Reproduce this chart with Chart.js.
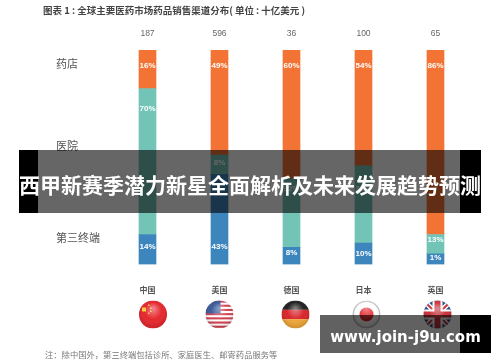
<!DOCTYPE html>
<html lang="zh">
<head>
<meta charset="utf-8">
<script src="https://cdn.jsdelivr.net/npm/chart.js@4"></script>
<style>
    html, body { margin: 0; padding: 0; background: #fff; }
    body { width: 500px; height: 362px; position: relative; overflow: hidden; font-family: "Noto Sans CJK SC", sans-serif; }
    #salesChart { position: absolute; left: 0; top: 0; filter: blur(0.5px); }
    .title { position: absolute; left: 43px; top: 2px; font-size: 9.5px; font-weight: 700; color: #444; line-height: 16px; white-space: nowrap; filter: blur(0.4px); }
    .note { position: absolute; left: 45px; top: 347px; font-size: 8.3px; color: #777; line-height: 14px; white-space: nowrap; filter: blur(0.4px); }
    .band { position: absolute; left: 38px; top: 150px; width: 422px; height: 63px; background: rgba(0,0,0,0.6); }
    .strip { position: absolute; background: #000; }
    .bandText { position: absolute; left: 19px; top: 153px; width: 462px; height: 63px; line-height: 63px; text-align: center; color: #fff; font-size: 21px; font-weight: 700; white-space: nowrap; }
    .mark { position: absolute; left: 320px; top: 315px; width: 140px; height: 38px; background: rgba(0,0,0,0.62); }
    .markText { position: absolute; left: 320px; top: 318px; width: 171px; height: 38px; line-height: 38px; text-align: center; color: #fff; font-size: 15px; font-weight: 700; font-family: "DejaVu Sans", sans-serif; white-space: nowrap; }
</style>
</head>
<body>
<canvas id="salesChart" width="500" height="362"></canvas>
<div class="title">图表 1 : 全球主要医药市场药品销售渠道分布( 单位 : 十亿美元 )</div>
<div class="note">注：除中国外，第三终端包括诊所、家庭医生、邮寄药品服务等</div>
<div class="band"></div>
<div class="strip" style="left:19px;top:150px;width:19px;height:63px"></div>
<div class="strip" style="left:460px;top:150px;width:21px;height:63px"></div>
<div class="bandText">西甲新赛季潜力新星全面解析及未来发展趋势预测</div>
<div class="mark"></div>
<div class="strip" style="left:460px;top:315px;width:31px;height:38px"></div>
<div class="markText">www.join-j9u.com</div>
<script>
const countries = ['中国', '美国', '德国', '日本', '英国'];
const totals = ['187', '596', '36', '100', '65'];
const rowLabels = ['药店', '医院', '第三终端'];
const rowTicks = [93.5, 55.3, 12.4];

// segment heights
const thirdValues = [14, 42, 8, 10, 5];
const hospitalValues = [68, 9, 32, 36, 9];
const pharmacyValues = [18, 49, 60, 54, 86];

// percentages printed on the bars
const thirdText = ['14%', '43%', '8%', '10%', '1%'];
const hospitalText = ['70%', '8%', '32%', '36%', '13%'];
const pharmacyText = ['16%', '49%', '60%', '54%', '86%'];

// where the printed labels sit inside a segment, px
const thirdLift = [18, 18, 12, 11, 7];
const hospitalDrop = [20, 8, 10, 23, 5];
const flagNudge = [5.5, 0, 4, 3, 2];

const flagPlugin = {
    id: 'flags',
    afterDraw(chart) {
        const ctx = chart.ctx;
        const x = chart.scales.x;
        countries.forEach((c, i) => {
            drawFlag(ctx, c, x.getPixelForValue(i) + flagNudge[i], 314.5, 14);
        });
    }
};

function drawFlag(ctx, name, cx, cy, r) {
    ctx.save();
    ctx.beginPath();
    ctx.arc(cx, cy, r, 0, Math.PI * 2);
    ctx.clip();
    const l = cx - r, t = cy - r, d = r * 2;
    ctx.fillStyle = '#fff';
    ctx.fillRect(l, t, d, d);
    if (name === '中国') {
        ctx.fillStyle = '#e5282f';
        ctx.fillRect(l, t, d, d);
        ctx.fillStyle = '#f7d038';
        ctx.fillRect(l + 3, t + 7, 4, 4);
        ctx.fillRect(l + 9, t + 4, 1.5, 1.5);
        ctx.fillRect(l + 11, t + 7, 1.5, 1.5);
        ctx.fillRect(l + 11, t + 10, 1.5, 1.5);
        ctx.fillRect(l + 9, t + 12, 1.5, 1.5);
    } else if (name === '美国') {
        for (let s = 0; s < 7; s++) {
            ctx.fillStyle = '#d0414f';
            ctx.fillRect(l, t + s * 4.2, d, 2.1);
        }
        ctx.fillStyle = '#3c5a9a';
        ctx.fillRect(l, t, 15, 13);
    } else if (name === '德国') {
        ctx.fillStyle = '#222';
        ctx.fillRect(l, t, d, d / 3);
        ctx.fillStyle = '#d8262c';
        ctx.fillRect(l, t + d / 3, d, d / 3);
        ctx.fillStyle = '#eda63a';
        ctx.fillRect(l, t + d * 2 / 3, d, d / 3);
    } else if (name === '日本') {
        ctx.fillStyle = '#e5282f';
        ctx.beginPath();
        ctx.arc(cx, cy, 7, 0, Math.PI * 2);
        ctx.fill();
        ctx.strokeStyle = '#ccc';
        ctx.lineWidth = 1.5;
        ctx.beginPath();
        ctx.arc(cx, cy, r - 0.7, 0, Math.PI * 2);
        ctx.stroke();
    } else {
        ctx.fillStyle = '#2c4a86';
        ctx.fillRect(l, t, d, d);
        ctx.strokeStyle = '#fff';
        ctx.lineWidth = 5;
        ctx.beginPath();
        ctx.moveTo(l, t); ctx.lineTo(l + d, t + d);
        ctx.moveTo(l + d, t); ctx.lineTo(l, t + d);
        ctx.stroke();
        ctx.strokeStyle = '#c8323c';
        ctx.lineWidth = 2;
        ctx.stroke();
        ctx.fillStyle = '#fff';
        ctx.fillRect(cx - 5, t, 10, d);
        ctx.fillRect(l, cy - 5, d, 10);
        ctx.fillStyle = '#c8323c';
        ctx.fillRect(cx - 3, t, 6, d);
        ctx.fillRect(l, cy - 3, d, 6);
    }
    // round glossy shading
    const g = ctx.createRadialGradient(cx, cy - 6, 1, cx, cy - 2, r);
    g.addColorStop(0, 'rgba(255,255,255,0.4)');
    g.addColorStop(0.6, 'rgba(255,255,255,0)');
    g.addColorStop(1, 'rgba(0,0,0,0.1)');
    ctx.fillStyle = g;
    ctx.fillRect(l, t, d, d);
    ctx.restore();
}

const barTextPlugin = {
    id: 'barText',
    afterDatasetsDraw(chart) {
        const ctx = chart.ctx;
        ctx.save();
        ctx.font = '700 8px "Liberation Sans", sans-serif';
        ctx.fillStyle = '#fff';
        ctx.textAlign = 'center';
        ctx.textBaseline = 'middle';
        chart.data.datasets.forEach((ds, d) => {
            chart.getDatasetMeta(d).data.forEach((bar, i) => {
                let y = bar.y + 16;
                if (d === 0) y = bar.base - thirdLift[i];
                if (d === 1) y = bar.y + hospitalDrop[i];
                ctx.fillText(ds.labelsOnBar[i], bar.x, y);
            });
        });
        ctx.restore();
    }
};

new Chart(document.getElementById('salesChart').getContext('2d'), {
    type: 'bar',
    data: {
        labels: countries,
        datasets: [
            { label: '第三终端', data: thirdValues, labelsOnBar: thirdText, backgroundColor: '#3d85bd', borderWidth: 0 },
            { label: '医院', data: hospitalValues, labelsOnBar: hospitalText, backgroundColor: '#72c4b6', borderWidth: 0 },
            { label: '药店', data: pharmacyValues, labelsOnBar: pharmacyText, backgroundColor: '#f37335', borderWidth: 0 }
        ]
    },
    options: {
        responsive: false,
        animation: false,
        layout: { padding: { left: 56, right: 28.5, top: 0, bottom: 0 } },
        barThickness: 17,
        plugins: { legend: { display: false }, tooltip: { enabled: false } },
        scales: {
            x: {
                stacked: true,
                grid: { display: false },
                border: { display: false },
                afterFit(axis) { axis.height = 97.5; },
                ticks: { color: '#555', font: { size: 8, weight: '700', family: '"Noto Sans CJK SC"' }, padding: 13, maxRotation: 0 }
            },
            top: {
                position: 'top',
                type: 'category',
                labels: totals,
                grid: { display: false },
                border: { display: false },
                afterFit(axis) { axis.height = 50; },
                ticks: { color: '#666', font: { size: 8.5, family: '"Liberation Sans"' }, padding: 3, maxRotation: 0 }
            },
            y: {
                stacked: true,
                min: 0,
                max: 100,
                grid: { display: false },
                border: { display: false },
                afterFit(axis) { axis.width = 55.5; },
                afterBuildTicks(axis) { axis.ticks = rowTicks.map(v => ({ value: v })); },
                ticks: {
                    color: '#555',
                    font: { size: 11, family: '"Noto Sans CJK SC"' },
                    crossAlign: 'far',
                    padding: 0,
                    callback(v) { return rowLabels[rowTicks.indexOf(v)]; }
                }
            }
        }
    },
    plugins: [barTextPlugin, flagPlugin]
});
</script>
</body>
</html>
